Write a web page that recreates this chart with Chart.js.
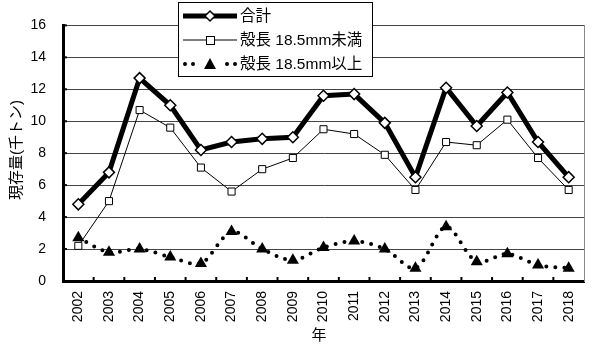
<!DOCTYPE html>
<html>
<head>
<meta charset="utf-8">
<script src="https://cdn.jsdelivr.net/npm/chart.js@4"></script>
<style>
  html, body { margin: 0; padding: 0; background: #fff; }
  #wrap { width: 601px; height: 345px; position: relative; }
</style>
</head>
<body>
<div id="wrap"><canvas id="grafico" width="601" height="345"></canvas></div>
<script>
// --- Datos ---
const anios = ["2002","2003","2004","2005","2006","2007","2008","2009","2010",
               "2011","2012","2013","2014","2015","2016","2017","2018"];
const total = [4.8, 6.8, 12.7, 11.0, 8.2, 8.7, 8.9, 9.0, 11.6, 11.7, 9.9, 6.5, 12.1, 9.7, 11.8, 8.7, 6.5];
const menor185 = [2.2, 5.0, 10.7, 9.6, 7.1, 5.6, 7.0, 7.7, 9.5, 9.2, 7.9, 5.7, 8.7, 8.5, 10.1, 7.7, 5.7];
const mayor185 = [2.7, 1.8, 2.0, 1.5, 1.1, 3.1, 2.0, 1.3, 2.1, 2.5, 2.0, 0.8, 3.4, 1.2, 1.7, 1.0, 0.8];
const nombres = ["合計", "殻長 18.5mm未満", "殻長 18.5mm以上"];
const yTicks = [0, 2, 4, 6, 8, 10, 12, 14, 16];

const FUENTE = "'Liberation Sans', 'Noto Sans CJK JP', sans-serif";

// --- Leyenda y marcas a mano ---
const pluginExtra = {
    id: "extra",
    afterDraw(chart) {
        const ctx = chart.ctx;
        const area = chart.chartArea;
        const x = chart.scales.x, y = chart.scales.y;
        ctx.save();

        // marcas de ticks hacia dentro
        ctx.strokeStyle = "#000";
        ctx.lineWidth = 2;
        yTicks.forEach(v => {
            const py = y.getPixelForValue(v);
            ctx.beginPath(); ctx.moveTo(area.left, py); ctx.lineTo(area.left + 4, py); ctx.stroke();
        });
        for (let i = 1; i < anios.length; i++) {
            const px = (x.getPixelForValue(i - 1) + x.getPixelForValue(i)) / 2;
            ctx.beginPath(); ctx.moveTo(px, area.bottom); ctx.lineTo(px, area.bottom - 4); ctx.stroke();
        }

        // titulos
        ctx.fillStyle = "#000";
        ctx.font = "15px " + FUENTE;
        ctx.textAlign = "center";
        ctx.textBaseline = "middle";
        ctx.fillText("年", 319, 336);
        ctx.save();
        ctx.translate(17, 150);
        ctx.rotate(-Math.PI / 2);
        ctx.fillText("現存量(千トン)", 0, 0);
        ctx.restore();

        // leyenda
        const bx = 178, by = 2, bw = 194, bh = 74;
        ctx.fillStyle = "#fff";
        ctx.fillRect(bx, by, bw, bh);
        ctx.strokeStyle = "#000";
        ctx.lineWidth = 1;
        ctx.strokeRect(bx + 0.5, by + 0.5, bw, bh);

        const filas = [16, 40, 64];
        const x0 = 183, x1 = 237, xm = 210;
        // fila 1
        ctx.lineWidth = 5;
        ctx.beginPath(); ctx.moveTo(x0, filas[0]); ctx.lineTo(x1, filas[0]); ctx.stroke();
        ctx.fillStyle = "#fff"; ctx.lineWidth = 1.5;
        ctx.beginPath();
        ctx.moveTo(xm, filas[0] - 5); ctx.lineTo(xm + 5, filas[0]); ctx.lineTo(xm, filas[0] + 5); ctx.lineTo(xm - 5, filas[0]);
        ctx.closePath(); ctx.fill(); ctx.stroke();
        // fila 2
        ctx.lineWidth = 1;
        ctx.beginPath(); ctx.moveTo(x0, filas[1]); ctx.lineTo(x1, filas[1]); ctx.stroke();
        ctx.fillRect(xm - 4, filas[1] - 4, 8, 8);
        ctx.strokeRect(xm - 4 + 0.5, filas[1] - 4 + 0.5, 8, 8);
        // fila 3
        ctx.fillStyle = "#000";
        [185, 193, 227, 235].forEach(px => {
            ctx.beginPath(); ctx.arc(px, filas[2], 2, 0, Math.PI * 2); ctx.fill();
        });
        ctx.beginPath();
        ctx.moveTo(xm, filas[2] - 6); ctx.lineTo(xm + 6, filas[2] + 5); ctx.lineTo(xm - 6, filas[2] + 5);
        ctx.closePath(); ctx.fill();

        ctx.font = "15.5px " + FUENTE;
        ctx.textAlign = "left";
        nombres.forEach((n, i) => ctx.fillText(n, 240, filas[i] + 1));
        ctx.restore();
    }
};

new Chart(document.getElementById("grafico"), {
    type: "line",
    data: {
        labels: anios,
        datasets: [
            {
                label: nombres[0], data: total,
                borderColor: "#000", borderWidth: 5, tension: 0,
                pointStyle: "rectRot", pointRadius: 5.5, pointBackgroundColor: "#fff",
                pointBorderColor: "#000", pointBorderWidth: 1.5
            },
            {
                label: nombres[1], data: menor185,
                borderColor: "#000", borderWidth: 1, tension: 0,
                pointStyle: "rect", pointRadius: 5, pointBackgroundColor: "#fff",
                pointBorderColor: "#000", pointBorderWidth: 1
            },
            {
                label: nombres[2], data: mayor185,
                borderColor: "#000", borderWidth: 4, tension: 0.3,
                borderDash: [0, 9], borderCapStyle: "round",
                pointStyle: "triangle", pointRadius: 7, pointBackgroundColor: "#000",
                pointBorderColor: "#000", pointBorderWidth: 0
            }
        ]
    },
    options: {
        responsive: false,
        animation: false,
        layout: { padding: { top: 20, right: 17, left: 0, bottom: 0 } },
        plugins: { legend: { display: false }, tooltip: { enabled: false } },
        scales: {
            x: {
                offset: true,
                grid: { display: false, drawTicks: false },
                border: { display: true, color: "#000", width: 3 },
                ticks: {
                    color: "#000", font: { family: FUENTE, size: 14 },
                    minRotation: 90, maxRotation: 90, padding: 10
                },
                afterFit: s => { s.height = 64; }
            },
            y: {
                min: 0, max: 16,
                afterBuildTicks: s => { s.ticks = yTicks.map(v => ({ value: v })); },
                grid: { color: "#444", lineWidth: 1, drawTicks: false },
                border: { display: true, color: "#000", width: 3 },
                ticks: {
                    color: "#000", font: { family: FUENTE, size: 14 }, padding: 17
                },
                afterFit: s => { s.width = 63; }
            },
            yDerecha: {
                position: "right", min: 0, max: 16,
                grid: { display: false, drawTicks: false },
                border: { display: true, color: "#888", width: 1 },
                ticks: { display: false },
                afterFit: s => { s.width = 0; }
            }
        }
    },
    plugins: [pluginExtra]
});
</script>
</body>
</html>
